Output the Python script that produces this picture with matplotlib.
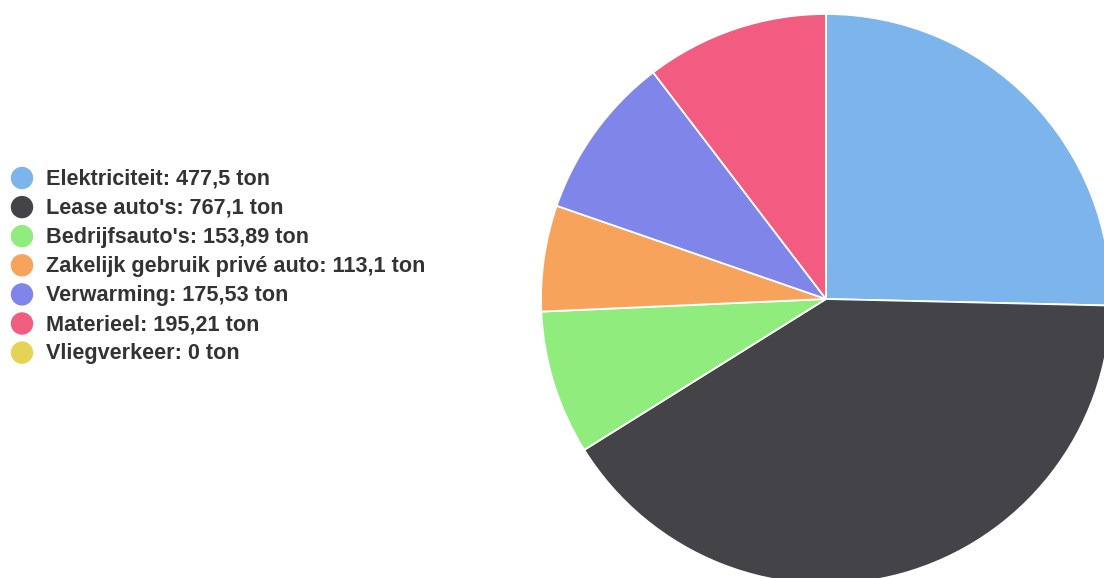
import matplotlib
matplotlib.use("Agg")
import matplotlib.pyplot as plt

labels = ["Elektriciteit", "Lease auto's", "Bedrijfsauto's", "Zakelijk gebruik privé auto",
          "Verwarming", "Materieel", "Vliegverkeer"]
values = [477.5, 767.1, 153.89, 113.1, 175.53, 195.21, 0]
value_text = ["477,5", "767,1", "153,89", "113,1", "175,53", "195,21", "0"]
colors = ["#7cb5ec", "#434348", "#90ed7d", "#f7a35c", "#8085e9", "#f15c80", "#e4d354"]

W, H = 1104, 578
fig = plt.figure(figsize=(W / 100, H / 100), dpi=100)
fig.patch.set_facecolor("white")

# pie axes: center (826, 299) px from top, radius 285 px
cx, cy, r = 826, 299, 285
ax = fig.add_axes([(cx - r) / W, (H - cy - r) / H, 2 * r / W, 2 * r / H])
ax.pie(values, colors=colors, startangle=90, counterclock=False,
       radius=1, wedgeprops=dict(edgecolor="white", linewidth=1.3))
ax.set_xlim(-1, 1)
ax.set_ylim(-1, 1)
ax.set_aspect("equal")
ax.axis("off")

# legend, drawn by hand
y0, dy = 179, 29.1
for i, (lab, vt, c) in enumerate(zip(labels, value_text, colors)):
    y = y0 + i * dy
    fig.patches.append(matplotlib.patches.Ellipse((22 / W, 1 - (y - 1) / H), 21 / W, 21 / H,
                                                  transform=fig.transFigure, color=c))
    fig.text(46 / W, 1 - y / H, lab + ": " + vt + " ton", fontsize=15.6, fontweight="bold",
             family=["Liberation Sans", "DejaVu Sans"], color="#333333", va="center", ha="left")

fig.savefig("out.png", dpi=100)
